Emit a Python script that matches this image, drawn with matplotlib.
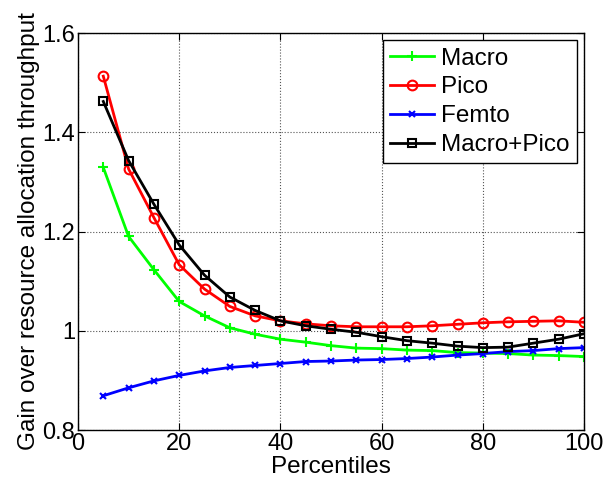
import matplotlib.pyplot as plt
from matplotlib.ticker import FormatStrFormatter

plt.rcParams['font.family'] = ['Liberation Sans', 'DejaVu Sans']

# percentiles on the x axis
percentiles = [5, 10, 15, 20, 25, 30, 35, 40, 45, 50, 55, 60, 65, 70, 75, 80, 85, 90, 95, 100]

# gain over resource allocation throughput
macro = [1.329, 1.190, 1.123, 1.059, 1.030, 1.006, 0.993, 0.983, 0.977, 0.970,
         0.965, 0.964, 0.961, 0.960, 0.956, 0.955, 0.954, 0.951, 0.950, 0.948]
pico = [1.513, 1.326, 1.228, 1.133, 1.084, 1.049, 1.030, 1.020, 1.014, 1.010,
        1.008, 1.008, 1.008, 1.010, 1.013, 1.016, 1.018, 1.019, 1.020, 1.017]
femto = [0.869, 0.885, 0.899, 0.910, 0.919, 0.926, 0.930, 0.934, 0.938, 0.939,
         0.941, 0.942, 0.944, 0.947, 0.951, 0.954, 0.958, 0.960, 0.964, 0.966]
macro_pico = [1.462, 1.343, 1.255, 1.173, 1.112, 1.068, 1.041, 1.020, 1.010, 1.003,
              0.997, 0.988, 0.980, 0.975, 0.969, 0.966, 0.967, 0.975, 0.983, 0.994]

fig = plt.figure(figsize=(6.06, 4.86), dpi=100)
ax = fig.add_axes([78/606, 1-430/486, (584-78)/606, (430-33)/486])

ax.plot(percentiles, macro, color='#00ff00', marker='+', markersize=7, mew=1.5, lw=2, label='Macro')
ax.plot(percentiles, pico, color='#ff0000', marker='o', markersize=7, mfc='none', mew=1.5, lw=2, label='Pico')
ax.plot(percentiles, femto, color='#0000ff', marker='x', markersize=5, mew=1.5, lw=2, label='Femto')
ax.plot(percentiles, macro_pico, color='black', marker='s', markersize=6, mfc='none', mew=1.5, lw=2, label='Macro+Pico')

ax.set_xlim(0, 100)
ax.set_ylim(0.8, 1.6)
ax.set_xticks([0, 20, 40, 60, 80, 100])
ax.set_yticks([0.8, 1.0, 1.2, 1.4, 1.6])
ax.yaxis.set_major_formatter(FormatStrFormatter('%g'))
ax.tick_params(direction='in', labelsize=17, top=True, right=True, length=5, pad=2)
ax.grid(True, linestyle=':', color='#555555', linewidth=0.8)
for s in ax.spines.values():
    s.set_linewidth(1.0)

ax.set_xlabel('Percentiles', fontsize=17.5, labelpad=1)
ax.set_ylabel('Gain over resource allocation throughput', fontsize=17.5, labelpad=2)

leg = ax.legend(loc='upper right', fontsize=17.5, numpoints=1, fancybox=False,
                framealpha=1, edgecolor='black', handlelength=1.8,
                borderaxespad=0.3, labelspacing=0.28, handletextpad=0.3, borderpad=0.3)
leg.get_frame().set_linewidth(1.0)

fig.savefig('out.png', dpi=100)
